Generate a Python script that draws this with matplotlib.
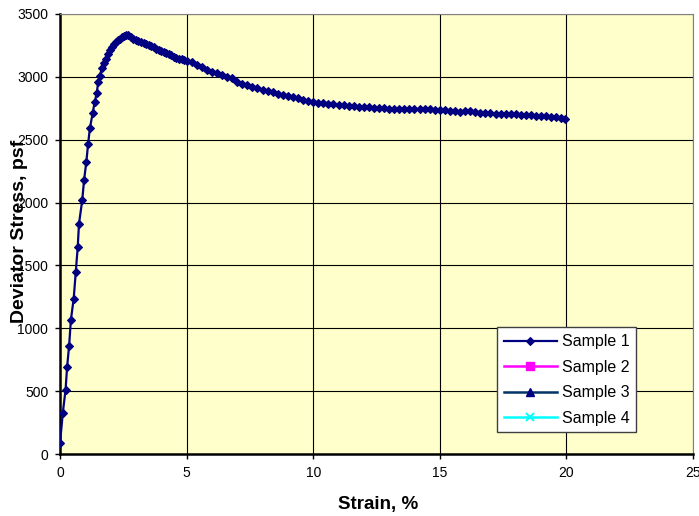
import matplotlib
matplotlib.use("Agg")
import matplotlib.pyplot as plt

# Sample 1 readings (strain %, deviator stress psf)
strain_1 = [0.0, 0.11, 0.22, 0.28, 0.36, 0.43, 0.54, 0.62, 0.70, 0.75,
            0.88, 0.95, 1.04, 1.11, 1.18, 1.29, 1.37, 1.45, 1.51, 1.58,
            1.65, 1.72, 1.80, 1.88, 1.96, 2.04, 2.12, 2.20, 2.28, 2.36,
            2.44, 2.52, 2.60, 2.70, 2.80, 2.90, 3.00, 3.10, 3.20, 3.30,
            3.40, 3.50, 3.60, 3.70, 3.80, 3.90, 4.00, 4.10, 4.20, 4.30,
            4.40, 4.50, 4.60, 4.70, 4.80, 4.90, 5.00, 5.20, 5.40, 5.60,
            5.80, 6.00, 6.20, 6.40, 6.60, 6.80, 7.00, 7.20, 7.40, 7.60,
            7.80, 8.00, 8.20, 8.40, 8.60, 8.80, 9.00, 9.20, 9.40, 9.60,
            9.80, 10.0, 10.2, 10.4, 10.6, 10.8, 11.0, 11.2, 11.4, 11.6,
            11.8, 12.0, 12.2, 12.4, 12.6, 12.8, 13.0, 13.2, 13.4, 13.6,
            13.8, 14.0, 14.2, 14.4, 14.6, 14.8, 15.0, 15.2, 15.4, 15.6,
            15.8, 16.0, 16.2, 16.4, 16.6, 16.8, 17.0, 17.2, 17.4, 17.6,
            17.8, 18.0, 18.2, 18.4, 18.6, 18.8, 19.0, 19.2, 19.4, 19.6,
            19.8, 19.94]
stress_1 = [85, 326, 512, 690, 862, 1067, 1234, 1444, 1646, 1831,
            2022, 2179, 2322, 2468, 2590, 2709, 2800, 2869, 2962, 3010,
            3070, 3110, 3145, 3180, 3210, 3240, 3262, 3280, 3293, 3305,
            3316, 3324, 3331, 3335, 3320, 3305, 3292, 3283, 3278, 3273,
            3265, 3255, 3245, 3235, 3225, 3215, 3205, 3195, 3186, 3178,
            3170, 3161, 3153, 3146, 3139, 3132, 3127, 3116, 3098, 3076,
            3057, 3042, 3027, 3012, 2998, 2988, 2962, 2945, 2932, 2920,
            2910, 2898, 2888, 2878, 2862, 2852, 2848, 2840, 2828, 2818,
            2810, 2800, 2795, 2790, 2786, 2782, 2778, 2773, 2770, 2766,
            2763, 2760, 2757, 2754, 2752, 2750, 2748, 2747, 2746, 2745,
            2744, 2744, 2744, 2745, 2746, 2740, 2735, 2737, 2732, 2727,
            2723, 2728, 2726, 2722, 2716, 2712, 2710, 2708, 2706, 2704,
            2704, 2702, 2700, 2696, 2694, 2691, 2688, 2685, 2682, 2678,
            2670, 2662]

# Samples 2-4 have no points plotted in the chart
strain_2, stress_2 = [], []
strain_3, stress_3 = [], []
strain_4, stress_4 = [], []

x_ticks = [0, 5, 10, 15, 20, 25]
y_ticks = [0, 500, 1000, 1500, 2000, 2500, 3000, 3500]

plt.rcParams['font.family'] = ['Liberation Sans', 'DejaVu Sans']

fig = plt.figure(figsize=(6.99, 5.16), dpi=100)
ax = fig.add_axes([60/699, 1-454/516, 633/699, 440/516])
ax.set_facecolor('#FFFFCC')

l1, = ax.plot(strain_1, stress_1, color='#000080', lw=1.6, marker='D', ms=4.0,
              mew=0.8, mec='#000080', mfc='#000080', label='Sample 1', zorder=3)
l2, = ax.plot(strain_2, stress_2, color='#FF00FF', lw=1.8, marker='s', ms=5.5,
              mec='#FF00FF', mfc='#FF00FF', label='Sample 2')
l3, = ax.plot(strain_3, stress_3, color='#003366', lw=1.8, marker='^', ms=6,
              mec='#000080', mfc='#000080', label='Sample 3')
l4, = ax.plot(strain_4, stress_4, color='#00FFFF', lw=1.8, marker='x', ms=5.5,
              mew=1.4, mec='#00FFFF', label='Sample 4')

ax.set_xlim(0, 25)
ax.set_ylim(0, 3500)
ax.set_xticks(x_ticks)
ax.set_yticks(y_ticks)
ax.grid(True, color='black', lw=0.8)
ax.tick_params(direction='out', length=3.5, width=1, labelsize=10, pad=5)

ax.spines['left'].set_linewidth(1.8)
ax.spines['bottom'].set_linewidth(1.8)
ax.spines['top'].set_color('#808080')
ax.spines['right'].set_color('#808080')

ax.set_xlabel('Strain, %', fontsize=13.5, fontweight='bold', va='center')
ax.xaxis.set_label_coords((378-60)/633, -(505-454)/440)
ax.set_ylabel('Deviator Stress, psf', fontsize=14, fontweight='bold', va='center')
ax.yaxis.set_label_coords((20-60)/633, 0.507)

leg = ax.legend(handles=[l1, l2, l3, l4], loc='lower left',
                bbox_to_anchor=(0.691, 0.049), borderaxespad=0,
                fontsize=11.5, handlelength=3.3, handletextpad=0.3,
                labelspacing=0.66, borderpad=0.42, fancybox=False,
                framealpha=1, edgecolor='#404040', facecolor='white')
leg.get_frame().set_linewidth(1)

plt.savefig('out.png', dpi=100)
